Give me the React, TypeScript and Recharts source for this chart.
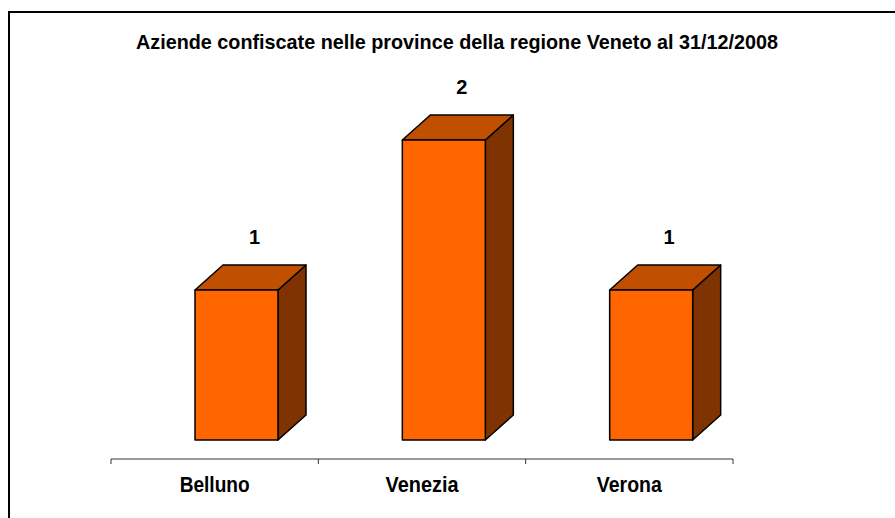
import React from 'react';
import { BarChart, Bar, XAxis, YAxis, LabelList } from 'recharts';

const TITLE = 'Aziende confiscate nelle province della regione Veneto al 31/12/2008';
const provinces = ['Belluno', 'Venezia', 'Verona'];
const aziende = [1, 2, 1];
// text widths measured on the reference (the original text is a bit condensed)
const labelWidths = [70, 73, 65];

const data = provinces.map((name, i) => ({ name, value: aziende[i], w: labelWidths[i] }));

const FONT = '"Liberation Sans", Arial, sans-serif';
const FRONT = '#FF6600';
const TOP = '#C04F00';
const SIDE = '#7F3300';
const DX = 28; // depth of the 3d box
const DY = 25;
const SHIFT_X = 22; // bars sit a little right of the band centre
const FLOOR = 19; // gap between the axis line and the bars' front base

const Box3D = (props: any) => {
  const { x, y, width, height } = props;
  if (!height) return null;
  const fx = x + SHIFT_X;
  const fy = y - FLOOR;
  const fb = y + height - FLOOR;
  const fr = fx + width;
  return (
    <g stroke="#000" strokeWidth={1.5} strokeLinejoin="round">
      <polygon points={`${fr},${fy} ${fr + DX},${fy - DY} ${fr + DX},${fb - DY} ${fr},${fb}`} fill={SIDE} />
      <polygon points={`${fx},${fy} ${fx + DX},${fy - DY} ${fr + DX},${fy - DY} ${fr},${fy}`} fill={TOP} />
      <rect x={fx} y={fy} width={width} height={fb - fy} fill={FRONT} />
    </g>
  );
};

const ValueLabel = (props: any) => {
  const { x, y, width, value } = props;
  return (
    <text x={x + SHIFT_X + width / 2 + 18} y={y - FLOOR - DY - 21} textAnchor="middle"
      fontFamily={FONT} fontWeight="bold" fontSize={20} fill="#000">
      {value}
    </text>
  );
};

const CategoryTick = (props: any) => {
  const { x, y, payload, index } = props;
  const band = 622 / provinces.length;
  const axisY = y - 5;
  return (
    <g>
      <line x1={x - band / 2} x2={x - band / 2} y1={axisY} y2={axisY + 5} stroke="#333" />
      {index === provinces.length - 1 && (
        <line x1={x + band / 2} x2={x + band / 2} y1={axisY} y2={axisY + 5} stroke="#333" />
      )}
      <text x={x} y={axisY + 33} textAnchor="middle" fontFamily={FONT} fontWeight="bold" fontSize={22}
        textLength={labelWidths[index]} lengthAdjust="spacingAndGlyphs" fill="#000">
        {payload.value}
      </text>
    </g>
  );
};

export default function App() {
  return (
    <div style={{ position: 'absolute', left: 0, top: 0, width: 895, height: 518, overflow: 'hidden', background: '#fff' }}>
      <div style={{ position: 'absolute', left: 8, top: 11, width: 1000, height: 1000, border: '2px solid #000', boxSizing: 'border-box' }} />
      <svg width={895} height={80} style={{ position: 'absolute', left: 0, top: 0 }}>
        <text x={457} y={49} textAnchor="middle" fontFamily={FONT} fontWeight="bold" fontSize={20.5}
          textLength={642} lengthAdjust="spacingAndGlyphs" fill="#000">
          {TITLE}
        </text>
      </svg>
      <div style={{ position: 'absolute', left: 0, top: 0 }}>
        <BarChart width={895} height={518} data={data} margin={{ top: 84, right: 162, bottom: 19, left: 111 }}>
          <XAxis dataKey="name" height={40} axisLine={{ stroke: '#333' }} tickLine={false} tickSize={5} tickMargin={0}
            tick={<CategoryTick />} interval={0} />
          <YAxis hide domain={[0, 2.5]} />
          <Bar dataKey="value" barSize={83} shape={<Box3D />} isAnimationActive={false}>
            <LabelList dataKey="value" content={<ValueLabel />} />
          </Bar>
        </BarChart>
      </div>
    </div>
  );
}
